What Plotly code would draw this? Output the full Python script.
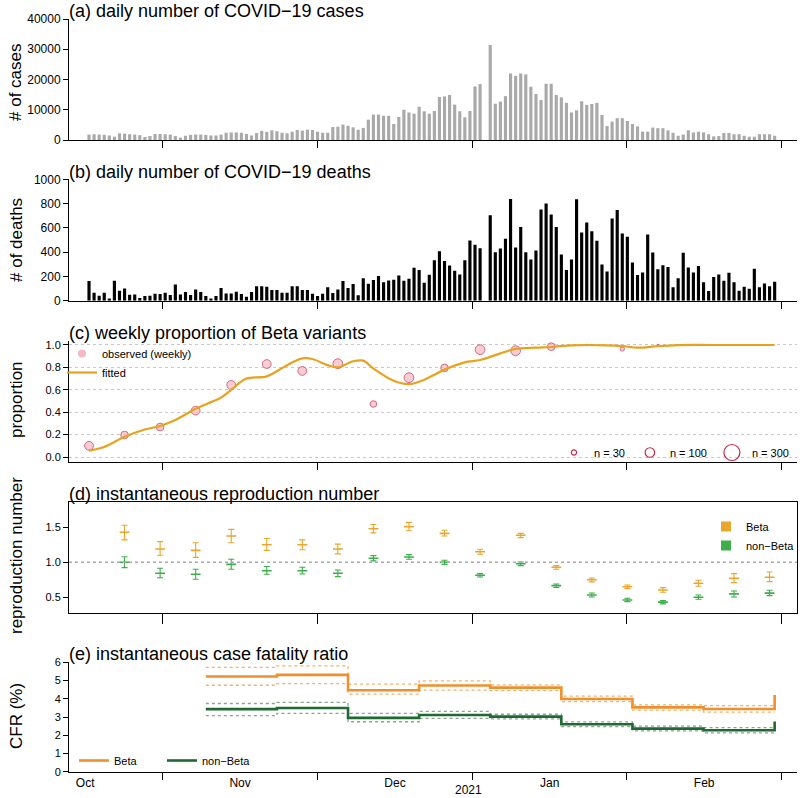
import numpy as np
import pandas as pd
import plotly.graph_objects as go

# ---------------- data ----------------
start_date = pd.Timestamp("2020-10-17 12:00")   # day index 0 (bar centre)

cases = [1800, 1900, 1800, 1700, 1500, 1100, 2200, 2100, 1900, 1800,
         1600, 1000, 1300, 2000, 2000, 1900, 1800, 1300, 800, 1400,
         1700, 1800, 1800, 1700, 1500, 1500, 1800, 2400, 2500, 2500,
         2400, 2000, 1500, 2300, 3000, 2700, 3200, 2900,
         2400, 2200, 2750, 3300, 3100, 3400, 3300, 2750, 2400, 2400,
         4300, 4400, 5100, 4700, 4200, 3400, 4000, 6700, 8400, 8400,
         8000, 8000, 5300, 7600, 10000, 9100, 8700, 11000, 9500, 8700,
         9600, 14200, 14400, 14900, 11700, 9500, 7500, 9600, 17700, 18500,
         None,
         31400, 12000, 12700, 14500, 22000, 21200, 22000,
         21700, 17600, 15200, 13200, 18600, 18600, 14900, 14100, 12300, 9100,
         9800, 12800, 11600, 11900, 12300, 8300, 4600, 6100, 7200, 7200,
         6300, 5300, 4500, 2750, 2750, 4100, 3900, 3900, 3200, 2400,
         1400, 1800, 3200, 2500, 2750, 2500, 1900, 1200, 1300, 2300,
         2300, 1900, 1900, 1400, 1100, 1100, 1900, 1900, 1900, 1400]

deaths = [162, 66, 41, 66, 19, 164, 82, 101, 49, 52,
          22, 38, 41, 58, 55, 66, 47, 134, 52, 71,
          47, 93, 71, 38, 19, 38, 104, 60, 60, 74,
          55, 33, 71, 120, 120, 115, 88, 88, 66, 66,
          118, 120, 88, 88, 58, 38, 58, 110, 63, 93,
          162, 104, 137, 44, 184, 140, 170, 203, 151, 167,
          173, 208, 164, 181, 271, 252, 148, 214, 334, 408,
          326, 290, 247, 216, 334, 496, 460, 433,
          None,
          704, 400, 430, 510, 838, 438, 608, 400, 340, 414, 751,
          800, 710, 608, 381, 252, 340, 836, 562, 644, 573,
          493, 299, 241, 677, 748, 553, 526, 315, 211, 233,
          545, 397, 260, 293, 277, 110, 184, 395, 274, 233,
          285, 151, 79, 195, 216, 164, 230, 151, 82, 115,
          99, 263, 110, 142, 118, 156]

# (c) weekly proportion of Beta
prop_days = [0, 7, 14, 21, 28, 35, 42, 49, 56, 63, 70, 77, 84, 91, 98, 105, 112]
prop_obs = [0.10, 0.196, 0.268, 0.414, 0.643, 0.830, 0.768, 0.833, 0.473,
            0.708, 0.795, 0.958, 0.949, 0.985, 1.0, 0.964, 0.997]
prop_n = [85, 65, 65, 85, 85, 85, 85, 105, 48, 105, 65, 105, 105, 65, 3, 20, 5]
fit_days = [0, 3, 7, 11, 14, 17, 21, 24, 26, 28, 31, 35, 39, 42, 44, 47, 49, 52,
            54, 56, 60, 63, 66, 70, 74, 77, 81, 84, 88, 91, 95, 98, 102, 105,
            108, 112, 116, 123, 135]
fit_vals = [0.057, 0.09, 0.18, 0.245, 0.277, 0.33, 0.43, 0.49, 0.53, 0.60, 0.70,
            0.72, 0.82, 0.88, 0.875, 0.82, 0.80, 0.855, 0.86, 0.79, 0.68, 0.65,
            0.69, 0.78, 0.845, 0.866, 0.925, 0.965, 0.976, 0.982, 0.997, 1.0,
            0.997, 0.99, 0.976, 0.99, 0.999, 1.0, 1.0]
size_legend_n = [30, 100, 300]

# (d) instantaneous reproduction number
r_days = [7, 14, 21, 28, 35, 42, 49, 56, 63, 70, 77, 85, 92, 99, 106, 113, 120, 127, 134]
beta_r = [1.43, 1.19, 1.17, 1.376, 1.25, 1.25, 1.19, 1.48, 1.51, 1.414, 1.15,
          1.386, 0.93, 0.75, 0.65, 0.605, 0.70, 0.77, 0.786]
beta_lo = [1.32, 1.10, 1.07, 1.28, 1.17, 1.18, 1.12, 1.42, 1.45, 1.376, 1.114,
           1.352, 0.90, 0.72, 0.624, 0.571, 0.657, 0.71, 0.724]
beta_hi = [1.53, 1.295, 1.28, 1.47, 1.34, 1.32, 1.26, 1.54, 1.57, 1.457, 1.186,
           1.414, 0.952, 0.776, 0.676, 0.638, 0.743, 0.838, 0.862]
nonbeta_r = [1.0, 0.843, 0.83, 0.97, 0.88, 0.88, 0.843, 1.057, 1.076, 1.0, 0.814,
             0.98, 0.667, 0.533, 0.462, 0.43, 0.50, 0.548, 0.56]
nonbeta_lo = [0.924, 0.78, 0.757, 0.90, 0.83, 0.833, 0.795, 1.02, 1.043, 0.97, 0.79,
              0.952, 0.64, 0.505, 0.438, 0.405, 0.471, 0.505, 0.524]
nonbeta_hi = [1.08, 0.914, 0.90, 1.043, 0.94, 0.93, 0.89, 1.095, 1.11, 1.03, 0.838,
              1.005, 0.69, 0.562, 0.486, 0.452, 0.533, 0.59, 0.60]

# (e) instantaneous case fatality ratio (%)
cfr_days = [23, 37, 51, 65, 79, 93, 107, 121, 135]
cfr_beta = [5.22, 5.31, 4.47, 4.73, 4.61, 3.99, 3.53, 3.44, 4.2]
cfr_beta_lo = [4.74, 4.83, 4.25, 4.47, 4.45, 3.84, 3.38, 3.27, 3.27]
cfr_beta_hi = [5.72, 5.80, 4.80, 4.98, 4.76, 4.15, 3.67, 3.62, 3.62]
cfr_non = [3.43, 3.49, 2.95, 3.11, 3.02, 2.60, 2.36, 2.27, 2.75]
cfr_non_lo = [3.07, 3.20, 2.74, 2.93, 2.90, 2.47, 2.24, 2.13, 2.13]
cfr_non_hi = [3.74, 3.80, 3.20, 3.31, 3.15, 2.73, 2.50, 2.42, 2.42]

month_labels = ["Oct", "Nov", "Dec", "Jan", "Feb"]
year_label = "2021"

# ---------------- helpers ----------------
def day_to_date(days):
    return [start_date + pd.Timedelta(days=d) for d in days]

def decimal_year(y):
    yr = int(np.floor(y))
    n = 366 if (yr % 4 == 0) else 365
    return pd.Timestamp(year=yr, month=1, day=1) + pd.Timedelta(days=(y - yr) * n)

# month axis in decimal years: ticks at month boundaries, labels mid-month
boundaries = [decimal_year(2020 + m / 12) for m in range(10, 15)]
label_pos = [decimal_year(2020 + (m + 0.5) / 12) for m in range(9, 14)]

day_dates = day_to_date(range(len(cases)))
W, H = 800, 798
def py(p):
    return 1 - p / H

X_DOM = [69 / W, 797 / W]
X_RANGE = [start_date + pd.Timedelta(days=-3.94), start_date + pd.Timedelta(days=139.4)]

FONT = "Liberation Sans, Arial, Helvetica, sans-serif"
GREY_BAR = "#A9A9A9"
PINK = "#F6B8C6"
DARKRED = "#C42845"
FIT_COL = "#E9A21F"
BETA_D = "#E8A62A"
NONBETA_D = "#3DAE4B"
BETA_E = "#F0902C"
NONBETA_E = "#1E6A32"
SIZE_K = 0.95

fig = go.Figure()

# (a) cases
fig.add_trace(go.Bar(x=day_dates, y=cases, marker=dict(color=GREY_BAR, line=dict(width=0)),
                     width=0.62 * 86400000, xaxis="x", yaxis="y", showlegend=False))
# (b) deaths
fig.add_trace(go.Bar(x=day_dates, y=deaths, marker=dict(color="black", line=dict(width=0)),
                     width=0.62 * 86400000, xaxis="x2", yaxis="y2", showlegend=False))

# (c) proportion
prop_dates = day_to_date(prop_days)
sizes = [SIZE_K * np.sqrt(n) for n in prop_n]
fig.add_trace(go.Scatter(x=prop_dates, y=prop_obs, mode="markers",
                         marker=dict(size=sizes, color=PINK, line=dict(color=DARKRED, width=1)),
                         xaxis="x3", yaxis="y3", showlegend=False))
fig.add_trace(go.Scatter(x=[None], y=[None], mode="markers", name="observed (weekly)",
                         marker=dict(size=8, color=PINK), xaxis="x3", yaxis="y3",
                         legend="legend"))
fig.add_trace(go.Scatter(x=day_to_date(fit_days), y=fit_vals, mode="lines", name="fitted",
                         line=dict(color=FIT_COL, width=2.2, shape="spline", smoothing=0.9),
                         xaxis="x3", yaxis="y3", legend="legend"))
for n in size_legend_n:
    fig.add_trace(go.Scatter(x=[None], y=[None], mode="markers", name=f"n = {n}",
                             marker=dict(size=SIZE_K * np.sqrt(n), color="rgba(0,0,0,0)",
                                         line=dict(color=DARKRED, width=1.2)),
                             xaxis="x3", yaxis="y3", legend="legend4"))

# (d) reproduction number
r_dates = day_to_date(r_days)
for vals, lo, hi, col in [(beta_r, beta_lo, beta_hi, BETA_D),
                          (nonbeta_r, nonbeta_lo, nonbeta_hi, NONBETA_D)]:
    fig.add_trace(go.Scatter(
        x=r_dates, y=vals, mode="markers",
        marker=dict(symbol="line-ew", size=7, color=col, line=dict(color=col, width=1.6)),
        error_y=dict(type="data", symmetric=False,
                     array=[h - v for h, v in zip(hi, vals)],
                     arrayminus=[v - l for v, l in zip(vals, lo)],
                     color=col, thickness=1.1, width=3),
        xaxis="x4", yaxis="y4", showlegend=False))
for name, col in [("Beta", BETA_D), ("non\u2212Beta", NONBETA_D)]:
    fig.add_trace(go.Scatter(x=[None], y=[None], mode="markers", name=name,
                             marker=dict(symbol="square", size=10, color=col),
                             xaxis="x4", yaxis="y4", legend="legend2"))

# (e) CFR
cfr_dates = day_to_date(cfr_days)
for arr, col in [(cfr_beta_hi, "rgba(240,150,60,0.75)"), (cfr_beta_lo, "rgba(240,150,60,0.75)"),
                 (cfr_non_hi, "rgba(110,140,115,0.8)"), (cfr_non_lo, "rgba(110,140,115,0.8)")]:
    fig.add_trace(go.Scatter(x=cfr_dates, y=arr, mode="lines",
                             line=dict(color=col, width=1.3, dash="dot", shape="hv"),
                             xaxis="x5", yaxis="y5", showlegend=False))
fig.add_trace(go.Scatter(x=cfr_dates, y=cfr_beta, mode="lines", name="Beta",
                         line=dict(color=BETA_E, width=2.6, shape="hv"),
                         xaxis="x5", yaxis="y5", legend="legend3"))
fig.add_trace(go.Scatter(x=cfr_dates, y=cfr_non, mode="lines", name="non\u2212Beta",
                         line=dict(color=NONBETA_E, width=2.6, shape="hv"),
                         xaxis="x5", yaxis="y5", legend="legend3"))

# ---------------- axes ----------------
def xaxis(anchor, show_labels, mirror=False, ticklen=7):
    return dict(domain=X_DOM, range=X_RANGE, type="date", anchor=anchor, automargin=False,
                showline=True, linecolor="black", linewidth=1, mirror=mirror,
                showgrid=False, zeroline=False,
                tickmode="array", tickvals=label_pos, ticktext=month_labels,
                ticks="", showticklabels=show_labels,
                tickfont=dict(size=12, color="black", family=FONT),
                minor=dict(tickmode="array", tickvals=boundaries, ticks="outside",
                           ticklen=ticklen, tickwidth=1, tickcolor="black", showgrid=False))

def yaxis(anchor, dom_px, rng, tickvals, fmt="d", size=12, mirror=False, grid=False):
    d = dict(domain=[py(dom_px[0]), py(dom_px[1])], range=rng, anchor=anchor,
             automargin=False,
             showline=True, linecolor="black", linewidth=1, mirror=mirror,
             ticks="outside", ticklen=5, tickcolor="black",
             tickmode="array", tickvals=tickvals, tickformat=fmt, zeroline=False,
             tickfont=dict(size=size, color="black", family=FONT),
             showgrid=grid)
    if grid:
        d.update(gridcolor="#C8C8C8", griddash="dot", gridwidth=1)
    return d

layout = dict(
    width=W, height=H, margin=dict(l=0, r=0, t=0, b=0, autoexpand=False),
    paper_bgcolor="white", plot_bgcolor="white", barmode="overlay",
    font=dict(family=FONT, color="black", size=12),
    xaxis=xaxis("y", False),
    xaxis2=xaxis("y2", False),
    xaxis3=xaxis("y3", False),
    xaxis4=xaxis("y4", False, mirror=True, ticklen=10),
    xaxis5=xaxis("y5", True),
    yaxis=yaxis("x", (140, 19), [0, 40000], [0, 10000, 20000, 30000, 40000]),
    yaxis2=yaxis("x2", (300.7, 179.3), [0, 1000], [0, 200, 400, 600, 800, 1000]),
    yaxis3=yaxis("x3", (461.5, 340.5), [-0.04, 1.04], [0, 0.2, 0.4, 0.6, 0.8, 1.0],
                 fmt=".1f", size=11, grid=True),
    yaxis4=yaxis("x4", (613.3, 501.7), [0.271, 1.866], [0.5, 1.0, 1.5], fmt=".1f",
                 size=11, mirror=True),
    yaxis5=yaxis("x5", (771.7, 662.3), [0, 6], [0, 1, 2, 3, 4, 5, 6], size=11),
    legend=dict(x=62 / W, y=py(339), xanchor="left", yanchor="top",
                bgcolor="rgba(0,0,0,0)", font=dict(size=11), tracegroupgap=0, itemwidth=30),
    legend2=dict(x=706 / W, y=py(512), xanchor="left", yanchor="top",
                 bgcolor="rgba(0,0,0,0)", font=dict(size=11), itemwidth=30),
    legend3=dict(orientation="h", x=74 / W, y=py(746), xanchor="left", yanchor="top",
                 bgcolor="rgba(0,0,0,0)", font=dict(size=11), itemwidth=30,
                 entrywidth=43, entrywidthmode="pixels"),
    legend4=dict(orientation="h", x=554 / W, y=py(438), xanchor="left", yanchor="top",
                 bgcolor="rgba(0,0,0,0)", font=dict(size=11), itemsizing="trace", itemwidth=30),
)
fig.update_layout(**layout)

# reference line at R = 1
fig.add_shape(type="line", xref="x4 domain", x0=0, x1=1, yref="y4", y0=1, y1=1,
              line=dict(color="#AAAAAA", width=1.5, dash="dot"))

# titles
titles = [("(a) daily number of COVID\u221219 cases", 11),
          ("(b) daily number of COVID\u221219 deaths", 172),
          ("(c) weekly proportion of Beta variants", 333),
          ("(d) instantaneous reproduction number", 494),
          ("(e) instantaneous case fatality ratio", 654)]
for text, ypx in titles:
    fig.add_annotation(text=text, xref="paper", yref="paper", x=67 / W, y=py(ypx),
                       xanchor="left", yanchor="middle", showarrow=False,
                       font=dict(size=18, color="black", family=FONT))

ytitles = [("# of cases", 82), ("# of deaths", 240), ("proportion", 400),
           ("reproduction number", 556), ("CFR (%)", 716)]
for text, ypx in ytitles:
    fig.add_annotation(text=text, xref="paper", yref="paper", x=16 / W, y=py(ypx),
                       xanchor="center", yanchor="middle", textangle=-90, showarrow=False,
                       font=dict(size=17, color="black", family=FONT))

fig.add_annotation(text=year_label, xref="paper", yref="paper", x=468 / W, y=py(790),
                   xanchor="center", yanchor="middle", showarrow=False,
                   font=dict(size=12, color="black", family=FONT))

fig.write_html("out.html", config={"displayModeBar": False},
               post_script="document.body.style.margin='0px';"
                           "document.body.style.padding='0px';")
